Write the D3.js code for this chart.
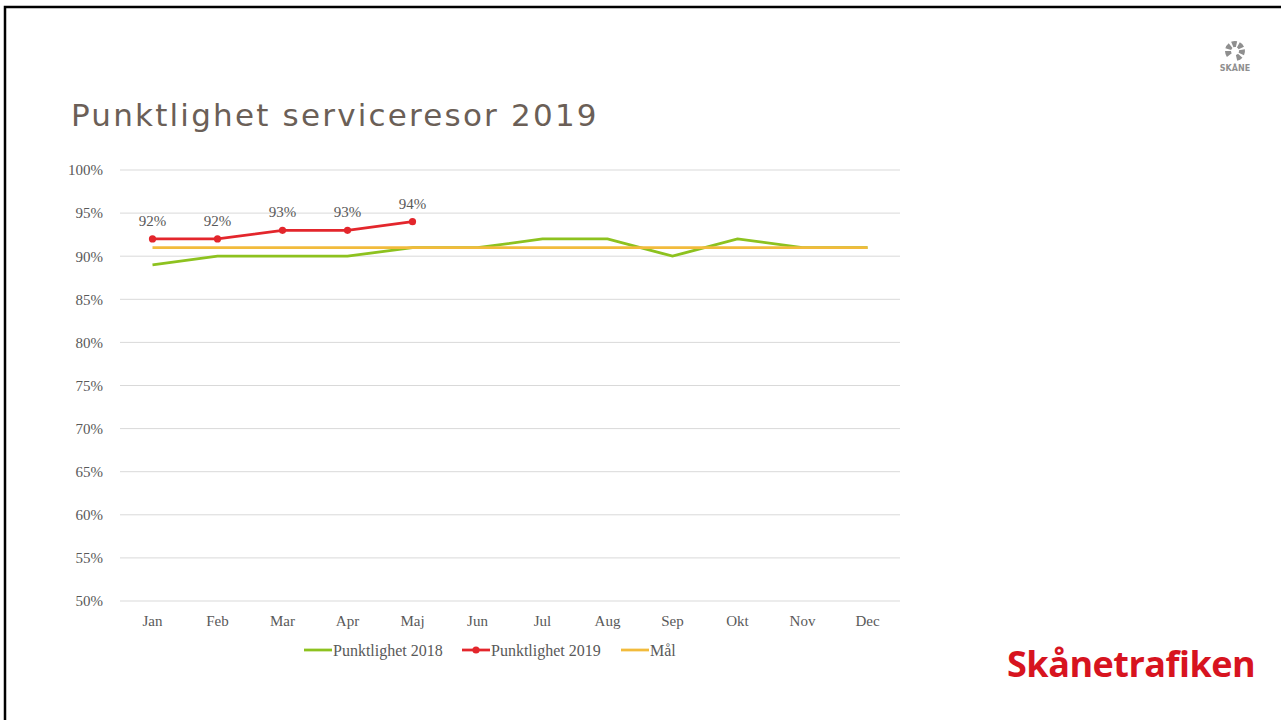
<!DOCTYPE html>
<meta charset="utf-8">
<style>
    body {
        margin: 0;
        padding: 0;
        background: #fff;
    }
    svg text {
        fill: #595959;
    }
</style>

<body>

<script src="https://d3js.org/d3.v7.min.js"></script>

<script>

var months = ["Jan", "Feb", "Mar", "Apr", "Maj", "Jun", "Jul", "Aug", "Sep", "Okt", "Nov", "Dec"];
var punkt2018 = [89, 90, 90, 90, 91, 91, 92, 92, 90, 92, 91, 91];
var punkt2019 = [92, 92, 93, 93, 94];
var mal = [91, 91, 91, 91, 91, 91, 91, 91, 91, 91, 91, 91];
var yTicks = [50, 55, 60, 65, 70, 75, 80, 85, 90, 95, 100];

var W = 1281, H = 720;

var svg = d3.select("body")
    .append("svg")
    .attr("width", W)
    .attr("height", H);

// slide frame (only top and left edges visible)
svg.append("path")
    .attr("d", "M5,720 V7 H1281")
    .attr("fill", "none")
    .attr("stroke", "#000")
    .attr("stroke-width", 2.5);

svg.append("text")
    .attr("x", 71)
    .attr("y", 126)
    .attr("font-family", "DejaVu Sans")
    .attr("font-size", 31)
    .attr("letter-spacing", 2.2)
    .style("fill", "#6b5f57")
    .text("Punktlighet serviceresor 2019");

var x = d3.scaleBand()
    .domain(months)
    .range([120, 900]);

var y = d3.scaleLinear()
    .domain([50, 100])
    .range([601, 170]);

var cx = function(m) { return x(m) + x.bandwidth() / 2; };

// grid
svg.append("g")
    .selectAll("line")
    .data(yTicks)
    .join("line")
    .attr("x1", 120)
    .attr("x2", 900)
    .attr("y1", d => y(d))
    .attr("y2", d => y(d))
    .attr("stroke", "#d9d9d9")
    .attr("stroke-width", 1);

var yAxis = svg.append("g")
    .attr("transform", "translate(106,0)")
    .call(d3.axisLeft(y).tickValues(yTicks).tickSize(0).tickFormat(d => d + "%"));
yAxis.select(".domain").remove();
yAxis.selectAll("text")
    .attr("font-family", "Liberation Serif")
    .attr("font-size", 15)
    .attr("dy", "0.32em");

var xAxis = svg.append("g")
    .attr("transform", "translate(0,612)")
    .call(d3.axisBottom(x).tickSize(0));
xAxis.select(".domain").remove();
xAxis.selectAll("text")
    .attr("font-family", "Liberation Serif")
    .attr("font-size", 15)
    .attr("dy", "0.71em");

var line = d3.line()
    .x((d, i) => cx(months[i]))
    .y(d => y(d));

svg.append("path")
    .attr("d", line(punkt2018))
    .attr("fill", "none")
    .attr("stroke", "#8dc21f")
    .attr("stroke-width", 2.75);

svg.append("path")
    .attr("d", line(mal))
    .attr("fill", "none")
    .attr("stroke", "#f2bb3c")
    .attr("stroke-width", 2.75);

svg.append("path")
    .attr("d", line(punkt2019))
    .attr("fill", "none")
    .attr("stroke", "#e3262c")
    .attr("stroke-width", 2.75);

svg.append("g")
    .selectAll("circle")
    .data(punkt2019)
    .join("circle")
    .attr("cx", (d, i) => cx(months[i]))
    .attr("cy", d => y(d))
    .attr("r", 3.6)
    .attr("fill", "#e3262c");

svg.append("g")
    .selectAll("text")
    .data(punkt2019)
    .join("text")
    .attr("x", (d, i) => cx(months[i]))
    .attr("y", d => y(d) - 13)
    .attr("text-anchor", "middle")
    .attr("font-family", "Liberation Serif")
    .attr("font-size", 15)
    .text(d => d + "%");

// legend
var legend = [
    {name: "Punktlighet 2018", color: "#8dc21f", x: 304, dot: false},
    {name: "Punktlighet 2019", color: "#e3262c", x: 462, dot: true},
    {name: "Mål", color: "#f2bb3c", x: 621, dot: false}
];
var lg = svg.append("g")
    .selectAll("g")
    .data(legend)
    .join("g")
    .attr("transform", d => "translate(" + d.x + ",650)");
lg.append("line")
    .attr("x1", 0)
    .attr("x2", 28)
    .attr("stroke", d => d.color)
    .attr("stroke-width", 2.75);
lg.filter(d => d.dot).append("circle")
    .attr("cx", 14)
    .attr("r", 3.6)
    .attr("fill", d => d.color);
lg.append("text")
    .attr("x", 29)
    .attr("dy", "0.35em")
    .attr("font-family", "Liberation Serif")
    .attr("font-size", 16)
    .text(d => d.name);

// Skåne emblem, top right
var petal = d3.arc().innerRadius(4).outerRadius(10);
var em = svg.append("g").attr("transform", "translate(1235,51)");
em.selectAll("path")
    .data(d3.range(6))
    .join("path")
    .attr("d", i => petal({startAngle: -2.2 + i * 0.9, endAngle: -2.2 + i * 0.9 + 0.62}))
    .attr("fill", "#8f8f8f");
em.append("text")
    .attr("y", 20)
    .attr("text-anchor", "middle")
    .attr("font-family", "DejaVu Sans")
    .attr("font-size", 8)
    .attr("font-weight", "bold")
    .style("fill", "#8f8f8f")
    .text("SKÅNE");

svg.append("text")
    .attr("x", 1007)
    .attr("y", 677)
    .attr("font-family", "Open Sans")
    .attr("font-weight", "bold")
    .attr("font-size", 36)
    .attr("letter-spacing", -0.5)
    .style("fill", "#d7141f")
    .text("Skånetrafiken");

</script>
